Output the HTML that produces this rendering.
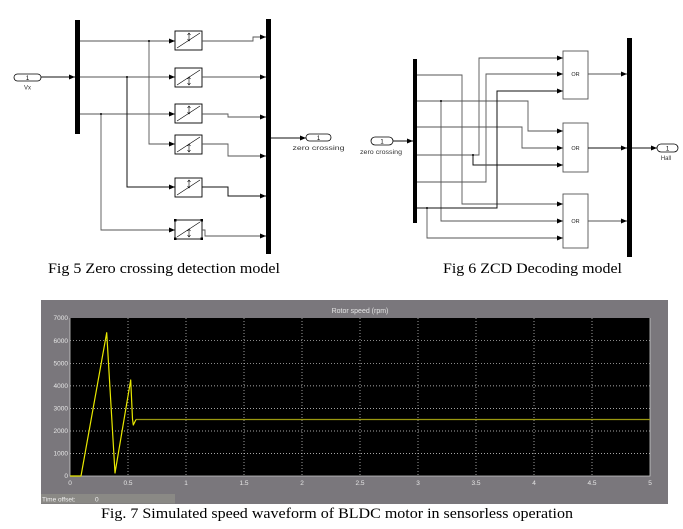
<!DOCTYPE html>
<html><head><meta charset="utf-8"><style>
html,body{margin:0;padding:0;background:#fff;}
svg{display:block;}
.w{fill:none;stroke:#555;stroke-width:0.9;}
.wb{fill:none;stroke:#111;stroke-width:1;}
.s{font-family:"Liberation Sans",sans-serif;}
.cap{font-family:"Liberation Serif",serif;font-size:15px;fill:#000;}
.ax{font-family:"Liberation Sans",sans-serif;font-size:6.5px;fill:#e6e6e6;}
.grid{stroke:#ddd;stroke-width:0.7;stroke-dasharray:1 2;}
</style></head><body>
<svg width="683" height="529" viewBox="0 0 683 529" xmlns="http://www.w3.org/2000/svg">
<defs>
<marker id="a" viewBox="0 0 6 6" refX="6" refY="3" markerWidth="6" markerHeight="6" markerUnits="userSpaceOnUse" orient="auto"><path d="M0,0.5 L6,3 L0,5.5 Z" fill="#000"/></marker>
</defs>
<rect width="683" height="529" fill="#fff"/>

<!-- ============ FIG 5 ============ -->
<rect x="14" y="74" width="27" height="7" rx="3.5" fill="#fff" stroke="#000" stroke-width="0.8"/>
<text x="27.5" y="80" class="s" font-size="6" text-anchor="middle">1</text>
<text x="27.5" y="89.5" class="s" font-size="6" text-anchor="middle" fill="#333">Vx</text>
<path class="wb" d="M41,77 H75" marker-end="url(#a)"/>
<rect x="75" y="20" width="5" height="114" fill="#000"/>

<!-- demux outputs -->
<path class="w" d="M80,41 H175" marker-end="url(#a)"/>
<path class="w" d="M80,77 H175" marker-end="url(#a)"/>
<path class="w" d="M80,114 H175" marker-end="url(#a)"/>
<path class="w" d="M149,41 V144 H175" marker-end="url(#a)"/>
<path class="wb" d="M127,77 V187 H175" marker-end="url(#a)"/>
<path class="w" d="M101,114 V230 H175" marker-end="url(#a)"/>
<circle cx="149" cy="41" r="1" fill="#000"/>
<circle cx="127" cy="77" r="1" fill="#000"/>
<circle cx="101" cy="114" r="1" fill="#000"/>

<!-- blocks -->
<g fill="#fff" stroke="#000" stroke-width="0.9">
<rect x="175" y="31" width="27" height="19"/>
<rect x="175" y="68" width="27" height="19"/>
<rect x="175" y="104" width="27" height="19"/>
<rect x="175" y="135" width="27" height="19"/>
<rect x="175" y="178" width="27" height="19"/>
<rect x="175" y="220" width="27" height="19"/>
</g>
<g stroke="#000" stroke-width="0.6" fill="none">
<path d="M177,48 L200,33 M189,33 V41 M187.5,35 L189,33 L190.5,35 M187.5,39 L189,41 L190.5,39"/>
<path d="M177,85 L200,70 M189,77 V85 M187.5,79 L189,77 L190.5,79 M187.5,83 L189,85 L190.5,83"/>
<path d="M177,121 L200,106 M189,106 V114 M187.5,108 L189,106 L190.5,108 M187.5,112 L189,114 L190.5,112"/>
<path d="M177,152 L200,137 M189,144 V152 M187.5,146 L189,144 L190.5,146 M187.5,150 L189,152 L190.5,150"/>
<path d="M177,195 L200,180 M189,180 V188 M187.5,182 L189,180 L190.5,182 M187.5,186 L189,188 L190.5,186"/>
<path d="M177,237 L200,222 M189,229 V237 M187.5,231 L189,229 L190.5,231 M187.5,235 L189,237 L190.5,235"/>
</g>
<g fill="#000">
<rect x="174" y="219" width="2.5" height="2.5"/><rect x="200.5" y="219" width="2.5" height="2.5"/>
<rect x="174" y="237.5" width="2.5" height="2.5"/><rect x="200.5" y="237.5" width="2.5" height="2.5"/>
</g>

<!-- outputs to mux -->
<path class="w" d="M202,41 H253 V37 H266" marker-end="url(#a)"/>
<path class="w" d="M202,77 H266" marker-end="url(#a)"/>
<path class="w" d="M202,114 H228 V117 H266" marker-end="url(#a)"/>
<path class="w" d="M202,144 H228 V156 H266" marker-end="url(#a)"/>
<path class="wb" d="M202,187 H228 V196 H266" marker-end="url(#a)"/>
<path class="w" d="M202,230 H205 V236 H266" marker-end="url(#a)"/>
<rect x="266" y="19" width="5" height="235" fill="#000"/>
<path class="wb" d="M271,138 H306" marker-end="url(#a)"/>
<rect x="306" y="134" width="25" height="7" rx="3.5" fill="#fff" stroke="#000" stroke-width="0.8"/>
<text x="318.5" y="140" class="s" font-size="6" text-anchor="middle">1</text>
<text x="318.5" y="150" class="s" font-size="6" text-anchor="middle" fill="#333" textLength="52" lengthAdjust="spacingAndGlyphs">zero crossing</text>

<text x="48" y="273" class="cap" textLength="232" lengthAdjust="spacingAndGlyphs">Fig 5 Zero crossing detection model</text>

<!-- ============ FIG 6 ============ -->
<rect x="371" y="137" width="22" height="8" rx="4" fill="#fff" stroke="#000" stroke-width="0.8"/>
<text x="382" y="143.5" class="s" font-size="6" text-anchor="middle">1</text>
<text x="381" y="154" class="s" font-size="6" text-anchor="middle" fill="#333" textLength="42" lengthAdjust="spacingAndGlyphs">zero crossing</text>
<path class="wb" d="M393,141 H413" marker-end="url(#a)"/>
<rect x="413" y="59" width="4" height="164" fill="#000"/>

<path class="w" d="M417,75 H462 V204 H563" marker-end="url(#a)"/>
<path class="w" d="M417,101 H528 V131 H563" marker-end="url(#a)"/>
<path class="w" d="M441,101 V221 H563" marker-end="url(#a)"/>
<path class="w" d="M417,127 H522 V148 H563" marker-end="url(#a)"/>
<path class="w" d="M417,155 H479 V58 H563" marker-end="url(#a)"/>
<path class="wb" d="M473,155 V165 H563" marker-end="url(#a)"/>
<path class="w" d="M417,182 H486 V74 H563" marker-end="url(#a)"/>
<path class="wb" d="M417,208 H497 V91 H563" marker-end="url(#a)"/>
<path class="w" d="M427,208 V238 H563" marker-end="url(#a)"/>
<circle cx="441" cy="101" r="1" fill="#000"/>
<circle cx="473" cy="155" r="1" fill="#000"/>
<circle cx="427" cy="208" r="1" fill="#000"/>

<g fill="#fff" stroke="#555" stroke-width="0.9">
<rect x="563" y="51" width="25" height="48"/>
<rect x="563" y="123" width="25" height="49"/>
<rect x="563" y="194" width="25" height="54"/>
</g>
<g class="s" font-size="5.5" text-anchor="middle" fill="#222">
<text x="575.5" y="76">OR</text>
<text x="575.5" y="150">OR</text>
<text x="575.5" y="223">OR</text>
</g>
<path class="w" d="M588,74 H627" marker-end="url(#a)"/>
<path class="wb" d="M588,148 H627" marker-end="url(#a)"/>
<path class="w" d="M588,221 H627" marker-end="url(#a)"/>
<rect x="627" y="38" width="5" height="219" fill="#000"/>
<path class="wb" d="M632,148 H657" marker-end="url(#a)"/>
<rect x="657" y="144" width="21" height="8" rx="4" fill="#fff" stroke="#000" stroke-width="0.8"/>
<text x="667.5" y="150.5" class="s" font-size="6" text-anchor="middle">1</text>
<text x="666" y="160" class="s" font-size="6" text-anchor="middle" fill="#333">Hall</text>

<text x="443" y="273" class="cap" textLength="179" lengthAdjust="spacingAndGlyphs">Fig 6 ZCD Decoding model</text>

<!-- ============ FIG 7 ============ -->
<rect x="41" y="300" width="627" height="204" fill="#7a777c"/>
<text x="360" y="313" class="s" font-size="7" fill="#e4e4e4" text-anchor="middle">Rotor speed (rpm)</text>
<rect x="70" y="318" width="580" height="158" fill="#000"/>
<g class="grid">
<line x1="128" y1="318" x2="128" y2="476"/><line x1="186" y1="318" x2="186" y2="476"/>
<line x1="244" y1="318" x2="244" y2="476"/><line x1="302" y1="318" x2="302" y2="476"/>
<line x1="360" y1="318" x2="360" y2="476"/><line x1="418" y1="318" x2="418" y2="476"/>
<line x1="476" y1="318" x2="476" y2="476"/><line x1="534" y1="318" x2="534" y2="476"/>
<line x1="592" y1="318" x2="592" y2="476"/>
<line x1="70" y1="453.5" x2="650" y2="453.5"/><line x1="70" y1="431" x2="650" y2="431"/>
<line x1="70" y1="408.4" x2="650" y2="408.4"/><line x1="70" y1="385.9" x2="650" y2="385.9"/>
<line x1="70" y1="363.3" x2="650" y2="363.3"/><line x1="70" y1="340.7" x2="650" y2="340.7"/>
</g>
<path d="M70,318 V476 H650 V318" fill="none" stroke="#ccc" stroke-width="0.8"/>
<g class="ax" text-anchor="end">
<text x="68" y="320">7000</text><text x="68" y="343">6000</text><text x="68" y="365.5">5000</text>
<text x="68" y="388">4000</text><text x="68" y="410.5">3000</text><text x="68" y="433">2000</text>
<text x="68" y="455.5">1000</text><text x="68" y="478">0</text>
</g>
<g class="ax" text-anchor="middle">
<text x="70" y="485">0</text><text x="128" y="485">0.5</text><text x="186" y="485">1</text>
<text x="244" y="485">1.5</text><text x="302" y="485">2</text><text x="360" y="485">2.5</text>
<text x="418" y="485">3</text><text x="476" y="485">3.5</text><text x="534" y="485">4</text>
<text x="592" y="485">4.5</text><text x="650" y="485">5</text>
</g>
<path d="M136,419.5 H650" fill="none" stroke="#9a9810" stroke-width="1.2"/>
<path d="M70,476 H81 L106.7,332.7 L115,473 L130.7,380 L132.5,419 L133.3,425 L136,419.5" fill="none" stroke="#e8e800" stroke-width="1.2" stroke-linejoin="round"/>
<rect x="41" y="494" width="134" height="9.5" fill="#8a8985"/>
<text x="42" y="501.5" class="s" font-size="6.5" fill="#f0f0f0">Time offset:</text>
<text x="95" y="501.5" class="s" font-size="6.5" fill="#f0f0f0">0</text>

<text x="101" y="518" class="cap" textLength="472" lengthAdjust="spacingAndGlyphs">Fig. 7 Simulated speed waveform of BLDC motor in sensorless operation</text>
</svg>
</body></html>
